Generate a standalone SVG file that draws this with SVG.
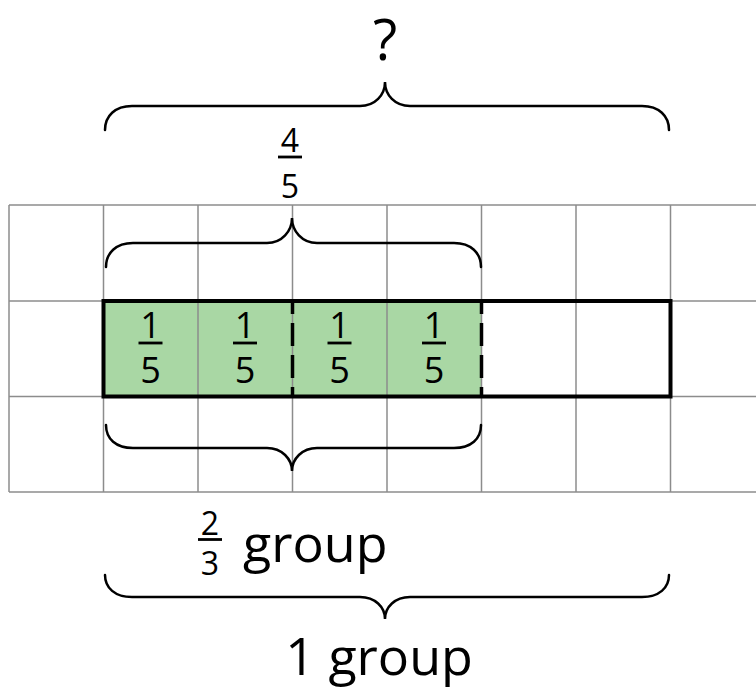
<svg xmlns="http://www.w3.org/2000/svg" width="756" height="689" viewBox="0 0 756 689">
<style>
.grid{stroke:#8c8c8c;stroke-width:1.5;fill:none}
.brace{stroke:#000;stroke-width:2.5;fill:none;stroke-linecap:round}
.bar{stroke:#000;stroke-width:2.8}
.dash{stroke:#000;stroke-width:3.5;stroke-dasharray:23 9;stroke-dashoffset:10}
text{font-family:"Open Sans","Noto Sans","Liberation Sans",sans-serif;fill:#000}
.f36{font-size:36px;text-anchor:middle}
.f32{font-size:32px;text-anchor:middle}
.big{font-size:52px}
</style>
<rect width="756" height="689" fill="#fff"/>
<g id="shaded">
<rect x="103.5" y="301" width="378" height="95.5" fill="#a9d7a4"/>
</g>
<g id="grid" class="grid">
<line x1="9" y1="205" x2="756" y2="205"/>
<line x1="9" y1="301" x2="756" y2="301"/>
<line x1="9" y1="396.5" x2="756" y2="396.5"/>
<line x1="9" y1="492" x2="756" y2="492"/>
<line x1="9" y1="205" x2="9" y2="492"/>
<line x1="103.5" y1="205" x2="103.5" y2="492"/>
<line x1="198" y1="205" x2="198" y2="492"/>
<line x1="292.5" y1="205" x2="292.5" y2="492"/>
<line x1="387" y1="205" x2="387" y2="492"/>
<line x1="481.5" y1="205" x2="481.5" y2="492"/>
<line x1="576" y1="205" x2="576" y2="492"/>
<line x1="670.5" y1="205" x2="670.5" y2="492"/>
</g>
<g id="bar-outline">
<rect x="103.5" y="301" width="567" height="95.5" fill="none" stroke="#000" stroke-width="4"/>
<line class="dash" x1="292.5" y1="301" x2="292.5" y2="396.5"/>
<line class="dash" x1="481.5" y1="301" x2="481.5" y2="396.5"/>
</g>
<g id="connectors">
<path class="brace" d="M105,130 C105,116 115,106 132,106 L360,106 C375,106 385,95 385,82 C385,95 395,106 410,106 L642,106 C659,106 669,116 669,130"/>
<path class="brace" d="M106,267 C106,253 116,243 133,243 L267,243 C282,243 292,231 292,218 C292,231 302,243 317,243 L454,243 C471,243 481,253 481,267"/>
<path class="brace" d="M106,425 C106,439 116,448 133,448 L267,448 C282,448 292,459 292,471 C292,459 302,448 317,448 L454,448 C471,448 481,439 481,425"/>
<path class="brace" d="M105,575 C105,588 115,597 132,597 L360,597 C375,597 385,607 385,619 C385,607 395,597 410,597 L642,597 C659,597 669,588 669,575"/>
</g>
<g id="cell-labels">
<text class="f36" x="150.5" y="338">1</text><line class="bar" x1="138.5" y1="343" x2="162.5" y2="343"/><text class="f36" x="150.5" y="383">5</text>
<text class="f36" x="245" y="338">1</text><line class="bar" x1="233" y1="343" x2="257" y2="343"/><text class="f36" x="245" y="383">5</text>
<text class="f36" x="339.5" y="338">1</text><line class="bar" x1="327.5" y1="343" x2="351.5" y2="343"/><text class="f36" x="339.5" y="383">5</text>
<text class="f36" x="434" y="338">1</text><line class="bar" x1="422" y1="343" x2="446" y2="343"/><text class="f36" x="434" y="383">5</text>
</g>
<g id="label-question">
<text x="385" y="60" font-size="56" text-anchor="middle">?</text>
</g>
<g id="label-four-fifths">
<text class="f32" x="290" y="152">4</text><line class="bar" x1="278" y1="157" x2="302" y2="157"/><text class="f32" x="290" y="198">5</text>
</g>
<g id="label-two-thirds">
<text class="f32" x="210" y="535">2</text><line class="bar" x1="198" y1="539.5" x2="222" y2="539.5"/><text class="f32" x="210" y="575">3</text>
<text class="big" x="243" y="562">group</text>
</g>
<g id="label-one-group">
<text class="big" x="379" y="675" text-anchor="middle">1 group</text>
</g>
</svg>
